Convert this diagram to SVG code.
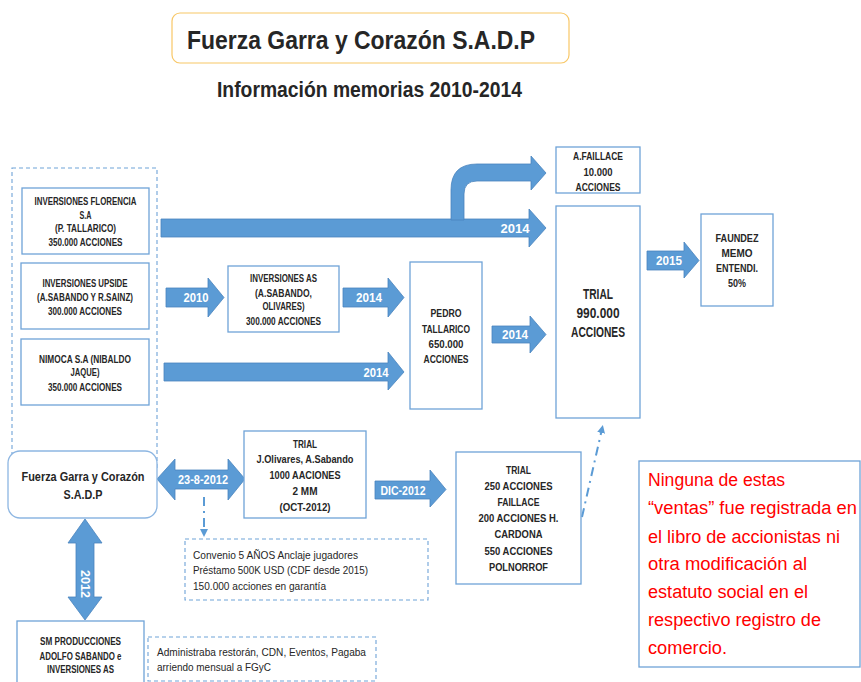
<svg xmlns="http://www.w3.org/2000/svg" width="861" height="682" viewBox="0 0 861 682">
<defs>
<style>
.bg{fill:#ffffff}
.box{fill:#ffffff;stroke:#6FA3D8;stroke-width:1.3}
.dash{fill:none;stroke:#6FA3D8;stroke-width:1.1;stroke-dasharray:4 3}
.dashw{fill:#ffffff;stroke:#6FA3D8;stroke-width:1.1;stroke-dasharray:4 3}
.arr{fill:#5B9BD5;stroke:#4A84BE;stroke-width:0.8}
.dd{fill:none;stroke:#5B9BD5;stroke-width:2;stroke-dasharray:9 5 2 5}
.t{font-family:"Liberation Sans",Arial,sans-serif;font-weight:bold;fill:#262626;text-anchor:middle}
.s{font-size:10px}
.m{font-size:11px}
.w{font-family:"Liberation Sans",Arial,sans-serif;font-weight:bold;fill:#ffffff;text-anchor:middle;font-size:13px}
.r{font-family:"Liberation Sans",Arial,sans-serif;fill:#262626;font-size:11px}
.red{font-family:"Liberation Sans",Arial,sans-serif;fill:#FF0000;font-size:18px}
</style>
<marker id="ah" markerWidth="8" markerHeight="8" refX="4" refY="4" orient="auto" markerUnits="userSpaceOnUse">
<path d="M0,0 L8,4 L0,8 Z" fill="#5B9BD5"/>
</marker>
</defs>
<rect class="bg" x="0" y="0" width="861" height="682"/>

<g id="title">
<rect x="172" y="13" width="397" height="50" rx="8" fill="#ffffff" stroke="#F8C766" stroke-width="1.2"/>
<text class="t" x="361" y="49" font-size="26" fill="#111" textLength="348" lengthAdjust="spacingAndGlyphs">Fuerza Garra y Corazón S.A.D.P</text>
</g>
<g id="subtitle">
<text class="t" x="369.5" y="97" font-size="22" textLength="305" lengthAdjust="spacingAndGlyphs">Información memorias 2010-2014</text>
</g>

<g id="grupo-accionistas">
<rect class="dash" x="12" y="168" width="145" height="300"/>
</g>

<g id="connectors">
<path class="arr" d="M161,219 L529,219 L529,209 L546,228 L529,247 L529,237 L161,237 Z"/>
<path class="arr" d="M451,220 L451,190 Q451,164 477,164 L531,164 L531,156 L546,173 L531,190 L531,181 L477,181 Q464,181 464,194 L464,220 Z"/>
<text class="w" x="515" y="233" textLength="29" lengthAdjust="spacingAndGlyphs">2014</text>

<path class="arr" d="M166,288 L208,288 L208,278 L224,297.5 L208,317 L208,307 L166,307 Z"/>
<text class="w" x="196" y="302" textLength="25" lengthAdjust="spacingAndGlyphs">2010</text>

<path class="arr" d="M343,288 L388,288 L388,278 L404,297.5 L388,317 L388,307 L343,307 Z"/>
<text class="w" x="369" y="302" textLength="26" lengthAdjust="spacingAndGlyphs">2014</text>

<path class="arr" d="M164,363 L388,363 L388,352 L404,372 L388,390 L388,381 L164,381 Z"/>
<text class="w" x="376" y="377" textLength="25" lengthAdjust="spacingAndGlyphs">2014</text>

<path class="arr" d="M492,326 L530,326 L530,316 L546,334.5 L530,353 L530,343 L492,343 Z"/>
<text class="w" x="515" y="339" textLength="26" lengthAdjust="spacingAndGlyphs">2014</text>

<path class="arr" d="M647,251 L684,251 L684,242 L699,260.5 L684,278 L684,270 L647,270 Z"/>
<text class="w" x="669" y="265" textLength="26" lengthAdjust="spacingAndGlyphs">2015</text>

<path class="arr" d="M157,479 L175,459 L175,470 L228,470 L228,459 L245,479 L228,500 L228,489 L175,489 L175,500 Z"/>
<text class="w" x="203" y="484" textLength="50" lengthAdjust="spacingAndGlyphs">23-8-2012</text>

<path class="arr" d="M375,481 L430,481 L430,470 L446,489.5 L430,507 L430,499 L375,499 Z"/>
<text class="w" x="403" y="494.5" textLength="45" lengthAdjust="spacingAndGlyphs">DIC-2012</text>

<path class="arr" d="M85,519 L102,543 L94,543 L94,597 L102,597 L85,620 L68,597 L76,597 L76,543 L68,543 Z"/>
<text class="w" transform="translate(80.5,584) rotate(90)" x="0" y="0" textLength="28" lengthAdjust="spacingAndGlyphs">2012</text>

<path class="dd" d="M204,497 L204,533" marker-end="url(#ah)"/>
<path class="dd" d="M582,517 L602,429" marker-end="url(#ah)"/>
</g>

<g id="inv-florencia">
<rect class="box" x="22" y="188" width="127" height="66"/>
<text class="t s" x="85.5" y="205" textLength="102" lengthAdjust="spacingAndGlyphs">INVERSIONES FLORENCIA</text>
<text class="t s" x="85.5" y="219" textLength="12" lengthAdjust="spacingAndGlyphs">S.A</text>
<text class="t s" x="85.5" y="232" textLength="61" lengthAdjust="spacingAndGlyphs">(P. TALLARICO)</text>
<text class="t s" x="85.5" y="246" textLength="74" lengthAdjust="spacingAndGlyphs">350.000 ACCIONES</text>
</g>

<g id="inv-upside">
<rect class="box" x="21" y="263" width="128" height="66"/>
<text class="t s" x="85" y="287" textLength="85" lengthAdjust="spacingAndGlyphs">INVERSIONES UPSIDE</text>
<text class="t s" x="85" y="301" textLength="96" lengthAdjust="spacingAndGlyphs">(A.SABANDO Y R.SAINZ)</text>
<text class="t s" x="85" y="315" textLength="74" lengthAdjust="spacingAndGlyphs">300.000 ACCIONES</text>
</g>

<g id="nimoca">
<rect class="box" x="21" y="339" width="128" height="66"/>
<text class="t s" x="85" y="363" textLength="92" lengthAdjust="spacingAndGlyphs">NIMOCA S.A (NIBALDO</text>
<text class="t s" x="85" y="376" textLength="29" lengthAdjust="spacingAndGlyphs">JAQUE)</text>
<text class="t s" x="85" y="391" textLength="74" lengthAdjust="spacingAndGlyphs">350.000 ACCIONES</text>
</g>

<g id="inv-as">
<rect class="box" x="228" y="266" width="111" height="66"/>
<text class="t s" x="283.5" y="282" textLength="67" lengthAdjust="spacingAndGlyphs">INVERSIONES AS</text>
<text class="t s" x="283.5" y="297" textLength="57" lengthAdjust="spacingAndGlyphs">(A.SABANDO,</text>
<text class="t s" x="283.5" y="310" textLength="42" lengthAdjust="spacingAndGlyphs">OLIVARES)</text>
<text class="t s" x="283.5" y="325" textLength="75" lengthAdjust="spacingAndGlyphs">300.000 ACCIONES</text>
</g>

<g id="pedro-tallarico">
<rect class="box" x="410" y="262" width="72" height="147"/>
<text class="t m" x="446" y="317" textLength="31" lengthAdjust="spacingAndGlyphs">PEDRO</text>
<text class="t m" x="446" y="333" textLength="48" lengthAdjust="spacingAndGlyphs">TALLARICO</text>
<text class="t m" x="446" y="348" textLength="35" lengthAdjust="spacingAndGlyphs">650.000</text>
<text class="t m" x="446" y="363" textLength="45" lengthAdjust="spacingAndGlyphs">ACCIONES</text>
</g>

<g id="faillace">
<rect class="box" x="556" y="147" width="84" height="46"/>
<text class="t m" x="598" y="160" textLength="50" lengthAdjust="spacingAndGlyphs">A.FAILLACE</text>
<text class="t m" x="598" y="176" textLength="29" lengthAdjust="spacingAndGlyphs">10.000</text>
<text class="t m" x="598" y="191" textLength="45" lengthAdjust="spacingAndGlyphs">ACCIONES</text>
</g>

<g id="trial-990">
<rect class="box" x="556" y="206" width="84" height="212"/>
<text class="t" font-size="14" x="598" y="299" textLength="30" lengthAdjust="spacingAndGlyphs">TRIAL</text>
<text class="t" font-size="14" x="598" y="318" textLength="43" lengthAdjust="spacingAndGlyphs">990.000</text>
<text class="t" font-size="14" x="598" y="337" textLength="54" lengthAdjust="spacingAndGlyphs">ACCIONES</text>
</g>

<g id="faundez">
<rect class="box" x="701" y="214" width="72" height="92"/>
<text class="t m" x="737" y="242" textLength="43" lengthAdjust="spacingAndGlyphs">FAUNDEZ</text>
<text class="t m" x="737" y="257" textLength="31" lengthAdjust="spacingAndGlyphs">MEMO</text>
<text class="t m" x="737" y="272" textLength="42" lengthAdjust="spacingAndGlyphs">ENTENDI.</text>
<text class="t m" x="737" y="287" textLength="18" lengthAdjust="spacingAndGlyphs">50%</text>
</g>

<g id="fgyc">
<rect x="8" y="451" width="149" height="67" rx="12" fill="#ffffff" stroke="#8DB6E2" stroke-width="1.3"/>
<text class="t" font-size="12.5" x="83" y="481" textLength="123" lengthAdjust="spacingAndGlyphs">Fuerza Garra y Corazón</text>
<text class="t" font-size="12.5" x="83" y="499" textLength="39" lengthAdjust="spacingAndGlyphs">S.A.D.P</text>
</g>

<g id="trial-olivares">
<rect class="box" x="244" y="431" width="122" height="87"/>
<text class="t m" x="305" y="448" textLength="24" lengthAdjust="spacingAndGlyphs">TRIAL</text>
<text class="t m" x="305" y="463" textLength="97" lengthAdjust="spacingAndGlyphs">J.Olivares, A.Sabando</text>
<text class="t m" x="305" y="479" textLength="71" lengthAdjust="spacingAndGlyphs">1000 AACIONES</text>
<text class="t m" x="305" y="495" textLength="25" lengthAdjust="spacingAndGlyphs">2 MM</text>
<text class="t m" x="305" y="511" textLength="51" lengthAdjust="spacingAndGlyphs">(OCT-2012)</text>
</g>

<g id="convenio">
<rect class="dashw" x="185" y="539" width="243" height="61"/>
<text class="r" x="193" y="559" textLength="165" lengthAdjust="spacingAndGlyphs">Convenio 5 AÑOS Anclaje jugadores</text>
<text class="r" x="193" y="574" textLength="175" lengthAdjust="spacingAndGlyphs">Préstamo 500K USD (CDF desde 2015)</text>
<text class="r" x="193" y="590" textLength="133" lengthAdjust="spacingAndGlyphs">150.000 acciones en garantía</text>
</g>

<g id="trial-250">
<rect class="box" x="456" y="452" width="125" height="132"/>
<text class="t m" x="518.5" y="474" textLength="25" lengthAdjust="spacingAndGlyphs">TRIAL</text>
<text class="t m" x="518.5" y="490" textLength="68" lengthAdjust="spacingAndGlyphs">250 ACCIONES</text>
<text class="t m" x="518.5" y="506" textLength="42" lengthAdjust="spacingAndGlyphs">FAILLACE</text>
<text class="t m" x="518.5" y="522" textLength="80" lengthAdjust="spacingAndGlyphs">200 ACCIONES H.</text>
<text class="t m" x="518.5" y="538" textLength="48" lengthAdjust="spacingAndGlyphs">CARDONA</text>
<text class="t m" x="518.5" y="555" textLength="68" lengthAdjust="spacingAndGlyphs">550 ACCIONES</text>
<text class="t m" x="518.5" y="571" textLength="59" lengthAdjust="spacingAndGlyphs">POLNORROF</text>
</g>

<g id="sm-producciones">
<rect class="box" x="17" y="621" width="127" height="70"/>
<text class="t s" x="80.5" y="645" textLength="81" lengthAdjust="spacingAndGlyphs">SM PRODUCCIONES</text>
<text class="t s" x="80.5" y="660" textLength="82" lengthAdjust="spacingAndGlyphs">ADOLFO SABANDO e</text>
<text class="t s" x="80.5" y="673" textLength="67" lengthAdjust="spacingAndGlyphs">INVERSIONES AS</text>
</g>

<g id="administraba">
<rect class="dashw" x="148" y="637" width="228" height="44"/>
<text class="r" x="157" y="656" textLength="209" lengthAdjust="spacingAndGlyphs">Administraba restorán, CDN, Eventos, Pagaba</text>
<text class="r" x="157" y="671" textLength="114" lengthAdjust="spacingAndGlyphs">arriendo mensual a FGyC</text>
</g>

<g id="nota">
<rect class="box" x="639" y="461" width="221" height="206"/>
<text class="red" x="648" y="486" textLength="137" lengthAdjust="spacingAndGlyphs">Ninguna de estas</text>
<text class="red" x="648" y="514" textLength="209" lengthAdjust="spacingAndGlyphs">“ventas” fue registrada en</text>
<text class="red" x="648" y="543" textLength="192" lengthAdjust="spacingAndGlyphs">el libro de accionistas ni</text>
<text class="red" x="648" y="570" textLength="159" lengthAdjust="spacingAndGlyphs">otra modificación al</text>
<text class="red" x="648" y="598" textLength="160" lengthAdjust="spacingAndGlyphs">estatuto social en el</text>
<text class="red" x="648" y="626" textLength="173" lengthAdjust="spacingAndGlyphs">respectivo registro de</text>
<text class="red" x="648" y="654" textLength="79" lengthAdjust="spacingAndGlyphs">comercio.</text>
</g>
</svg>
